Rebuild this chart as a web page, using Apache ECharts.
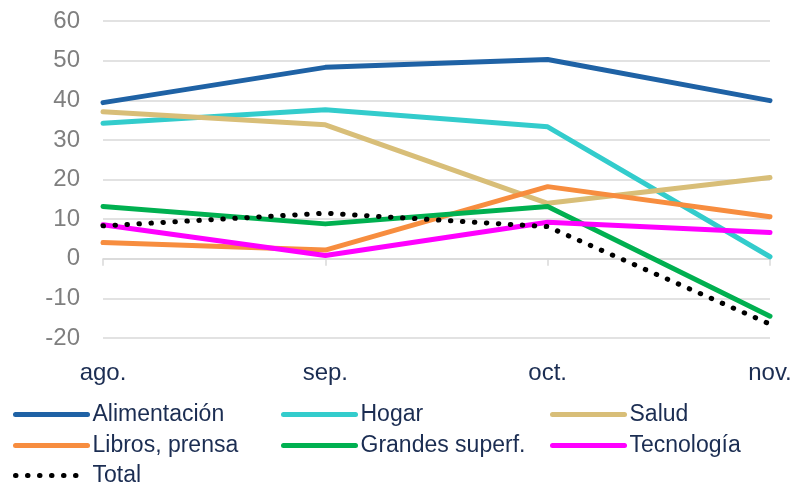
<!DOCTYPE html>
<html>
<head>
<meta charset="utf-8">
<script src="https://cdn.jsdelivr.net/npm/echarts@6/dist/echarts.min.js"></script>
<style>
    html, body { margin: 0; padding: 0; background: #fff; }
    #chart { width: 802px; height: 485px; }
</style>
</head>
<body>
<div id="chart"></div>
<script>
    // meses
    var categories = ['ago.', 'sep.', 'oct.', 'nov.'];
    var yTicks = [-20, -10, 0, 10, 20, 30, 40, 50, 60];

    // valores
    var alimentacion = [39.4, 48.3, 50.3, 39.9];
    var hogar = [34.2, 37.6, 33.3, 0.5];
    var salud = [37.1, 33.8, 14.0, 20.5];
    var libros = [4.1, 2.2, 18.2, 10.6];
    var grandes = [13.2, 8.8, 13.2, -14.5];
    var tecnologia = [8.6, 0.8, 9.2, 6.6];
    var total = [8.3, 11.5, 8.1, -16.5];

    var font = '"Liberation Sans", Arial, sans-serif';
    var navy = '#1b2d52';

    function lineSerie(name, data, color) {
        return {
            name: name,
            type: 'line',
            data: data,
            symbol: 'none',
            lineStyle: {color: color, width: 5, cap: 'round', join: 'round'},
            itemStyle: {color: color},
            emphasis: {disabled: true}
        };
    }

    // una leyenda por elemento, colocada en su celda
    function legendItem(name, left, centerY, dotted) {
        return {
            left: left,
            top: centerY - 9,
            padding: 0,
            itemWidth: 72,
            itemHeight: 26,
            itemGap: 0,
            data: [name],
            selectedMode: false,
            itemStyle: {opacity: 0, borderWidth: 0},
            lineStyle: dotted ? {width: 5, type: [0.5, 11.5], cap: 'round'} : {width: 5, cap: 'round'},
            textStyle: {color: navy, fontSize: 23, fontFamily: font}
        };
    }

    var chart = echarts.init(document.getElementById('chart'));

    var totalSerie = lineSerie('Total', total, '#000000');
    totalSerie.lineStyle.type = [0.5, 11.5];

    var option = {
        animation: false,
        grid: {left: 103, right: 32, top: 21, bottom: 147},
        legend: [
            legendItem('Alimentación', 13, 412),
            legendItem('Hogar', 281, 412),
            legendItem('Salud', 550, 412),
            legendItem('Libros, prensa', 13, 443),
            legendItem('Grandes superf.', 281, 443),
            legendItem('Tecnología', 550, 443),
            legendItem('Total', 13, 473, true)
        ],
        xAxis: [
            {
                type: 'category',
                data: categories,
                boundaryGap: false,
                axisLine: {onZero: true, lineStyle: {color: '#d9d9d9', width: 1.5}},
                axisTick: {show: true, alignWithLabel: true, length: 7, lineStyle: {color: '#d9d9d9', width: 1.5}},
                axisLabel: {show: false},
                splitLine: {show: false}
            },
            {
                type: 'category',
                data: categories,
                boundaryGap: false,
                position: 'bottom',
                axisLine: {show: false, onZero: false},
                axisTick: {show: false},
                axisLabel: {color: navy, fontSize: 24, fontFamily: font, margin: 23}
            }
        ],
        yAxis: {
            type: 'value',
            min: yTicks[0],
            max: yTicks[yTicks.length - 1],
            interval: 10,
            axisLine: {show: false},
            axisTick: {show: false},
            axisLabel: {color: '#7f7f7f', fontSize: 24, fontFamily: font, margin: 23},
            splitLine: {lineStyle: {color: '#d9d9d9', width: 1.5}}
        },
        series: [
            lineSerie('Alimentación', alimentacion, '#1f62a5'),
            lineSerie('Hogar', hogar, '#33cccc'),
            lineSerie('Salud', salud, '#d8be78'),
            lineSerie('Libros, prensa', libros, '#f78d3f'),
            lineSerie('Grandes superf.', grandes, '#00b050'),
            lineSerie('Tecnología', tecnologia, '#ff00ff'),
            totalSerie
        ]
    };

    chart.setOption(option);
</script>
</body>
</html>
